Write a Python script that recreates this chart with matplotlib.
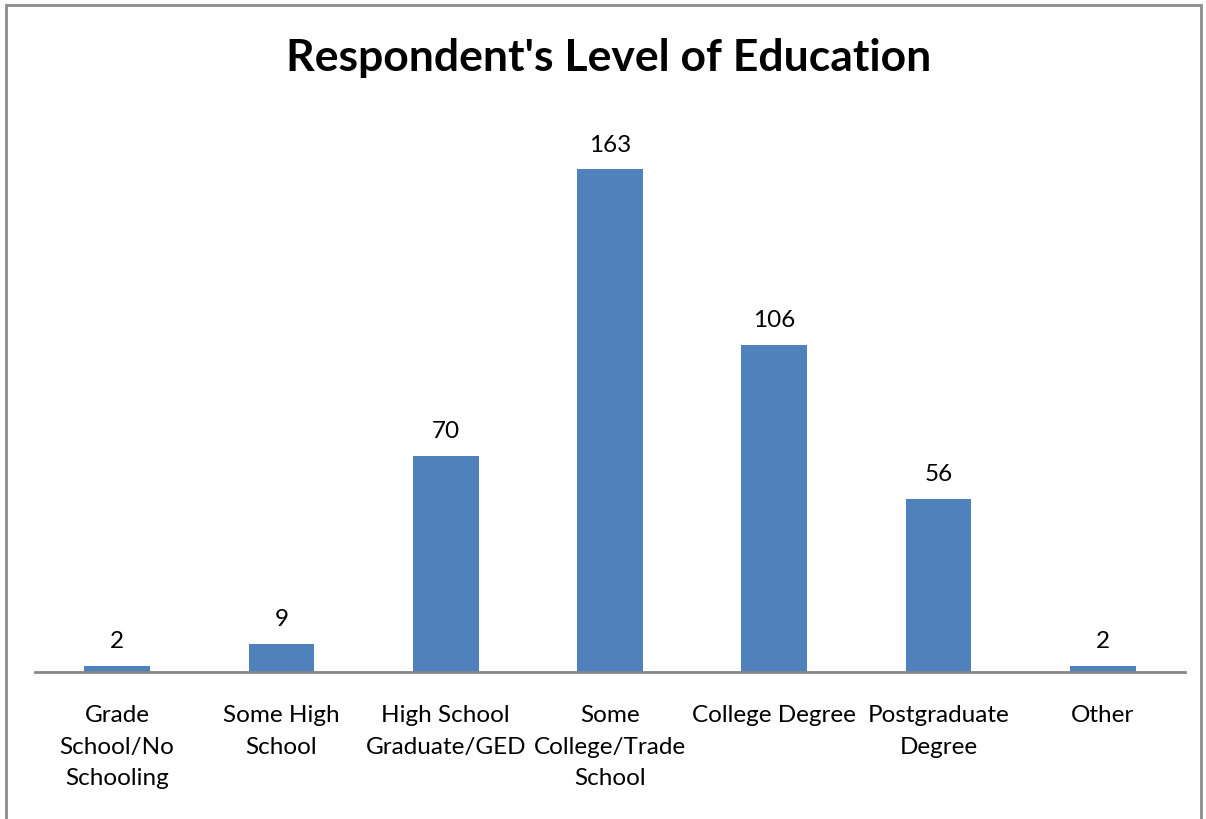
import numpy as np
import matplotlib.pyplot as plt
from matplotlib.patches import Rectangle

categories = ['Grade\nSchool/No\nSchooling', 'Some High\nSchool', 'High School\nGraduate/GED',
              'Some\nCollege/Trade\nSchool', 'College Degree', 'Postgraduate\nDegree', 'Other']
counts = [2, 9, 70, 163, 106, 56, 2]

plt.rcParams['font.family'] = ['Lato', 'DejaVu Sans']

fig = plt.figure(figsize=(12.06, 8.19), dpi=100)
ax = fig.add_axes([35 / 1206, 1 - 672 / 819, 1150 / 1206, (672 - 117) / 819])

x = np.arange(len(counts))
bars = ax.bar(x, counts, width=0.4, color='#4F81BD', zorder=2)

for xi, c in zip(x, counts):
    ax.annotate(str(c), (xi, c), xytext=(0, 10), textcoords='offset points',
                ha='center', va='bottom', fontsize=17.5)

ax.set_xlim(-0.5, len(counts) - 0.5)
ax.set_ylim(0, 180)
ax.set_yticks([])
ax.set_xticks(x)
ax.set_xticklabels(categories, fontsize=17.5, linespacing=1.6)
ax.tick_params(axis='x', length=0, pad=24)
for s in ['top', 'right', 'left']:
    ax.spines[s].set_visible(False)
ax.spines['bottom'].set_color('#868686')
ax.spines['bottom'].set_linewidth(2)
ax.spines['bottom'].set_zorder(3)

fig.text(0.505, 1 - 58 / 819, "Respondent's Level of Education", ha='center', va='center',
         fontsize=32, fontweight='bold')

# outer frame like the spreadsheet chart area
fig.patches.append(Rectangle((6 / 1206, -0.05), 1195 / 1206, 1.05 - 5 / 819,
                             transform=fig.transFigure, fill=False,
                             edgecolor='#8c8c8c', linewidth=2))

plt.savefig('out.png', dpi=100)
